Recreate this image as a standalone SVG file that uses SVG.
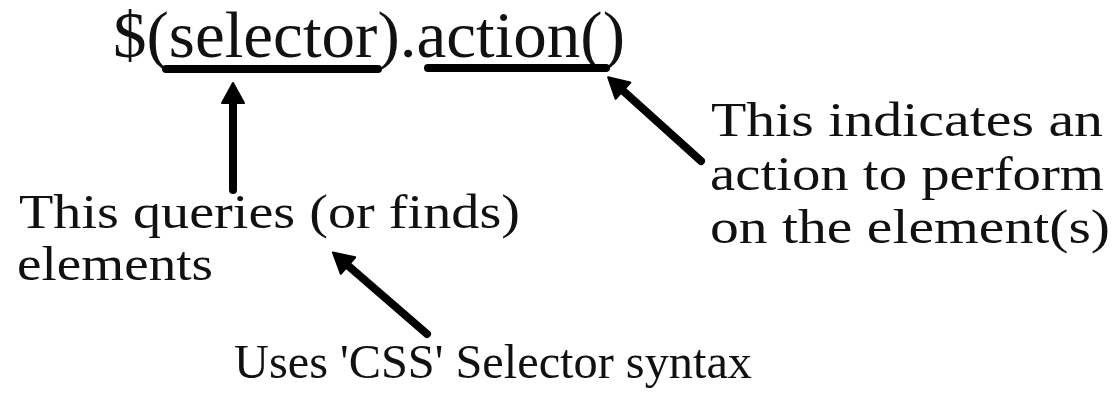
<svg xmlns="http://www.w3.org/2000/svg" width="1117" height="404" viewBox="0 0 1117 404">
  <style>
    .title { font-family: "Liberation Serif", "Times New Roman", serif; font-size: 66px; fill: #111; }
    .label { font-family: "Liberation Serif", "Times New Roman", serif; font-size: 49px; fill: #111; }
    .bar { stroke: #000; stroke-width: 8; stroke-linecap: round; fill: none; }
    .arrow { stroke: #000; stroke-width: 8; stroke-linecap: round; fill: none; marker-end: url(#head); }
  </style>
  <defs>
    <marker id="head" viewBox="0 0 24 24" markerUnits="userSpaceOnUse" markerWidth="24" markerHeight="24" refX="6" refY="12" orient="auto">
      <path d="M2,1 L22,12 L2,23 Z" fill="#000" stroke="#000" stroke-width="2" stroke-linejoin="round"/>
    </marker>
  </defs>
  <rect width="1117" height="404" fill="#fff"/>

  <!-- jQuery call syntax with its two underlined parts -->
  <g id="syntax">
    <text class="title" x="113" y="57" textLength="512" lengthAdjust="spacingAndGlyphs">$(selector).action()</text>
    <line class="bar" x1="166" y1="69" x2="378" y2="69"/>
    <line class="bar" x1="428" y1="68" x2="606" y2="68"/>
  </g>

  <g id="selector-note">
    <text class="label" x="19" y="228" textLength="501" lengthAdjust="spacingAndGlyphs">This queries (or finds)</text>
    <text class="label" x="17" y="280" textLength="196" lengthAdjust="spacingAndGlyphs">elements</text>
  </g>

  <g id="action-note">
    <text class="label" x="711" y="136" textLength="392" lengthAdjust="spacingAndGlyphs">This indicates an</text>
    <text class="label" x="710" y="190" textLength="394" lengthAdjust="spacingAndGlyphs">action to perform</text>
    <text class="label" x="710" y="243" textLength="400" lengthAdjust="spacingAndGlyphs">on the element(s)</text>
  </g>

  <g id="css-note">
    <text class="label" x="234" y="378" textLength="518" lengthAdjust="spacingAndGlyphs">Uses 'CSS' Selector syntax</text>
  </g>

  <!-- pointers from the notes to the code -->
  <g id="connectors">
    <line class="arrow" x1="233" y1="190" x2="233" y2="99"/>
    <line class="arrow" x1="701" y1="161" x2="620" y2="88"/>
    <line class="arrow" x1="427" y1="334" x2="345" y2="263"/>
  </g>
</svg>
